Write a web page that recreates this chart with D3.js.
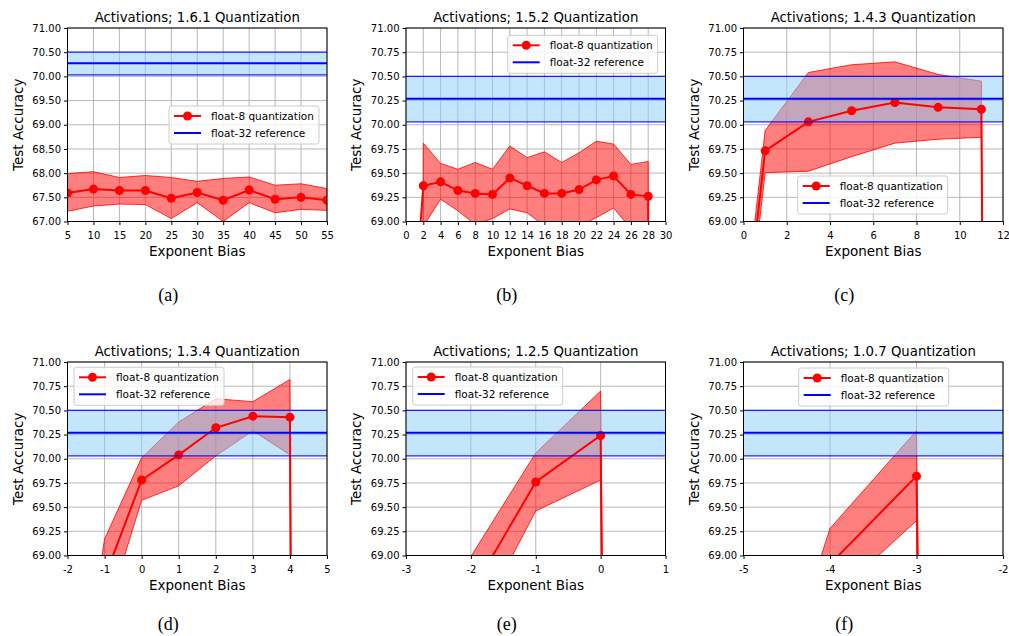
<!DOCTYPE html>
<html>
<head>
<meta charset="utf-8">
<script src="https://cdn.jsdelivr.net/npm/d3@7"></script>
<style>
    body { margin: 0; background: #fff; }
    svg text { font-family: "DejaVu Sans", sans-serif; fill: #000; }
    svg text.caption { font-family: "Liberation Serif", serif; }
</style>
</head>
<body>
<div id="chart"></div>
<script>

// float-32 reference accuracy (mean and band)
var refMean = 70.27;
var refLow = 70.03;
var refHigh = 70.50;

var formats = ["1.6.1", "1.5.2", "1.4.3", "1.3.4", "1.2.5", "1.0.7"];
var captions = ["(a)", "(b)", "(c)", "(d)", "(e)", "(f)"];

// x ranges of each panel (exponent bias)
var xDomains = [[5, 55], [0, 30], [0, 12], [-2, 5], [-3, 1], [-5, -2]];
var xSteps = [5, 2, 2, 1, 1, 1];
// y ranges (test accuracy)
var yDomains = [[67, 71], [69, 71], [69, 71], [69, 71], [69, 71], [69, 71]];
var ySteps = [0.5, 0.25, 0.25, 0.25, 0.25, 0.25];

// (a) 1.6.1
var biasA = [5, 10, 15, 20, 25, 30, 35, 40, 45, 50, 55];
var meanA = [67.59, 67.67, 67.64, 67.64, 67.48, 67.60, 67.44, 67.65, 67.46, 67.50, 67.44];
var upperA = [67.99, 68.03, 67.91, 67.95, 67.91, 67.83, 67.89, 67.92, 67.75, 67.78, 67.68];
var lowerA = [67.21, 67.32, 67.36, 67.35, 67.06, 67.39, 67.00, 67.39, 67.18, 67.25, 67.23];

// (b) 1.5.2 -- bias 0 and 30 collapse
var biasB = [0, 2, 4, 6, 8, 10, 12, 14, 16, 18, 20, 22, 24, 26, 28, 30];
var meanB = [66.9, 69.37, 69.41, 69.32, 69.29, 69.28, 69.45, 69.37, 69.29, 69.29, 69.33, 69.43, 69.47, 69.28, 69.26, 0.1];
var upperB = [37.4, 69.81, 69.60, 69.54, 69.61, 69.54, 69.78, 69.66, 69.72, 69.61, 69.71, 69.83, 69.80, 69.59, 69.62, 0.2];
var lowerB = [30.0, 68.95, 69.23, 69.11, 68.97, 69.03, 69.13, 69.09, 68.955, 68.90, 68.95, 69.04, 69.14, 68.925, 68.80, 0.0];

// (c) 1.4.3
var biasC = [-1, 1, 3, 5, 7, 9, 11, 13];
var meanC = [65.8, 69.73, 70.03, 70.145, 70.23, 70.18, 70.16, 0.1];
var upperC = [66.0, 69.94, 70.54, 70.62, 70.65, 70.52, 70.45, 0.2];
var lowerC = [65.6, 69.505, 69.52, 69.67, 69.81, 69.85, 69.87, 0.0];

// (d) 1.3.4
var biasD = [-2, -1, 0, 1, 2, 3, 4, 5];
var meanD = [66.4, 68.77, 69.78, 70.04, 70.32, 70.44, 70.43, 0.1];
var upperD = [66.74, 69.17, 70.01, 70.38, 70.62, 70.59, 70.82, 0.2];
var lowerD = [66.0, 68.33, 69.57, 69.72, 70.03, 70.29, 70.04, 0.0];

// (e) 1.2.5
var biasE = [-2, -1, 0, 1];
var meanE = [68.61, 69.76, 70.24, 0.1];
var upperE = [68.99, 70.06, 70.70, 0.2];
var lowerE = [68.18, 69.46, 69.78, 0.0];

// (f) 1.0.7
var biasF = [-5, -4, -3, -2];
var meanF = [66.0, 68.91, 69.82, 0.1];
var upperF = [66.5, 69.28, 70.29, 0.2];
var lowerF = [65.5, 68.54, 69.36, 0.0];

var seriesList = [
    [biasA, meanA, upperA, lowerA],
    [biasB, meanB, upperB, lowerB],
    [biasC, meanC, upperC, lowerC],
    [biasD, meanD, upperD, lowerD],
    [biasE, meanE, upperE, lowerE],
    [biasF, meanF, upperF, lowerF]
];

//-----layout------
var colLeft = [67.5, 406, 743.5];
var rowTop = [28, 362];
var plotW = 259.5, plotH = 193.5;
// caption baseline below plot, per row
var captionDy = [79, 74.5];
// legend box offset inside each plot
var legendPos = [[101.5, 78], [101.7, 7.3], [54.2, 148], [6.5, 5.3], [6.7, 5], [55.2, 6]];


/*
 * QuantPanel - one subplot
 */
QuantPanel = function(_svg, _index) {
    this.svg = _svg;
    this.index = _index;
    this.initVis();
};

QuantPanel.prototype.initVis = function() {
    var vis = this;
    var i = vis.index;

    vis.row = Math.floor(i / 3);
    vis.left = colLeft[i % 3];
    vis.top = rowTop[vis.row];
    vis.width = plotW;
    vis.height = plotH;

    vis.g = vis.svg.append("g")
        .attr("transform", "translate(" + vis.left + "," + vis.top + ")");

    vis.g.append("clipPath")
        .attr("id", "clip" + i)
        .append("rect")
        .attr("width", vis.width)
        .attr("height", vis.height);

    vis.x = d3.scaleLinear().domain(xDomains[i]).range([0, vis.width]);
    vis.y = d3.scaleLinear().domain(yDomains[i]).range([vis.height, 0]);

    vis.xTicks = d3.range(xDomains[i][0], xDomains[i][1] + xSteps[i] / 2, xSteps[i]);
    vis.yTicks = d3.range(yDomains[i][0], yDomains[i][1] + ySteps[i] / 2, ySteps[i]);

    var s = seriesList[i];
    vis.data = s[0].map(function(b, k) {
        return {x: b, mean: s[1][k], upper: s[2][k], lower: s[3][k]};
    });

    vis.updateVis();
};

QuantPanel.prototype.updateVis = function() {
    var vis = this;
    var i = vis.index;

    //grid
    vis.g.append("g").selectAll("line.gx")
        .data(vis.xTicks).enter().append("line")
        .attr("x1", function(d) { return vis.x(d); })
        .attr("x2", function(d) { return vis.x(d); })
        .attr("y1", 0).attr("y2", vis.height)
        .style("stroke", "#b0b0b0").style("stroke-width", 0.9);
    vis.g.append("g").selectAll("line.gy")
        .data(vis.yTicks).enter().append("line")
        .attr("y1", function(d) { return vis.y(d); })
        .attr("y2", function(d) { return vis.y(d); })
        .attr("x1", 0).attr("x2", vis.width)
        .style("stroke", "#b0b0b0").style("stroke-width", 0.9);

    var plot = vis.g.append("g").attr("clip-path", "url(#clip" + i + ")");

    //red std band
    var area = d3.area()
        .x(function(d) { return vis.x(d.x); })
        .y0(function(d) { return vis.y(d.lower); })
        .y1(function(d) { return vis.y(d.upper); });
    plot.append("path")
        .datum(vis.data)
        .attr("d", area)
        .style("fill", "#ff0000")
        .style("fill-opacity", 0.5)
        .style("stroke", "#ff0000")
        .style("stroke-width", 0.8);

    //blue reference band (drawn over the red fill)
    plot.append("rect")
        .attr("x", 0)
        .attr("width", vis.width)
        .attr("y", vis.y(refHigh))
        .attr("height", vis.y(refLow) - vis.y(refHigh))
        .style("fill", "#87cefa")
        .style("fill-opacity", 0.5);

    //mean line + markers
    var line = d3.line()
        .x(function(d) { return vis.x(d.x); })
        .y(function(d) { return vis.y(d.mean); });
    plot.append("path")
        .datum(vis.data)
        .attr("d", line)
        .style("fill", "none")
        .style("stroke", "#ff0000")
        .style("stroke-width", 2);
    plot.selectAll("circle")
        .data(vis.data).enter().append("circle")
        .attr("cx", function(d) { return vis.x(d.x); })
        .attr("cy", function(d) { return vis.y(d.mean); })
        .attr("r", 4.5)
        .style("fill", "#ff0000");

    //blue reference lines
    [refLow, refHigh].forEach(function(v) {
        plot.append("line")
            .attr("x1", 0).attr("x2", vis.width)
            .attr("y1", vis.y(v)).attr("y2", vis.y(v))
            .style("stroke", "#0000ff").style("stroke-width", 1.2).style("opacity", 0.85);
    });
    plot.append("line")
        .attr("x1", 0).attr("x2", vis.width)
        .attr("y1", vis.y(refMean)).attr("y2", vis.y(refMean))
        .style("stroke", "#0000ff").style("stroke-width", 2);

    //axes
    var xAxis = d3.axisBottom(vis.x).tickValues(vis.xTicks).tickSize(3.5).tickPadding(6.5)
        .tickFormat(function(d) { return String(d); });
    var yAxis = d3.axisLeft(vis.y).tickValues(vis.yTicks).tickSize(3.5).tickPadding(3)
        .tickFormat(d3.format(".2f"));

    var gx = vis.g.append("g")
        .attr("transform", "translate(0," + vis.height + ")")
        .call(xAxis);
    var gy = vis.g.append("g").call(yAxis);
    [gx, gy].forEach(function(a) {
        a.select(".domain").remove();
        a.selectAll("text").style("font-size", "10px").style("font-family", "DejaVu Sans");
        a.selectAll("line").style("stroke", "#000");
    });

    //frame
    vis.g.append("rect")
        .attr("width", vis.width).attr("height", vis.height)
        .style("fill", "none").style("stroke", "#000").style("stroke-width", 1);

    //title + labels
    vis.g.append("text")
        .attr("x", vis.width / 2).attr("y", -6)
        .attr("text-anchor", "middle")
        .style("font-size", "13.3px")
        .text("Activations; " + formats[i] + " Quantization");

    vis.g.append("text")
        .attr("x", vis.width / 2).attr("y", vis.height + 34)
        .attr("text-anchor", "middle")
        .style("font-size", "13.5px")
        .text("Exponent Bias");

    vis.g.append("text")
        .attr("transform", "translate(-45," + vis.height / 2 + ") rotate(-90)")
        .attr("text-anchor", "middle")
        .style("font-size", "13.5px")
        .text("Test Accuracy");

    vis.g.append("text")
        .attr("class", "caption")
        .attr("x", vis.width / 2 - 29).attr("y", vis.height + captionDy[vis.row])
        .attr("text-anchor", "middle")
        .style("font-size", "18px")
        .text(captions[i]);

    vis.drawLegend();
};

QuantPanel.prototype.drawLegend = function() {
    var vis = this;
    var p = legendPos[vis.index];

    var lg = vis.g.append("g")
        .attr("transform", "translate(" + p[0] + "," + p[1] + ")");

    lg.append("rect")
        .attr("width", 150).attr("height", 38)
        .attr("rx", 2.5)
        .style("fill", "#fff").style("fill-opacity", 0.8)
        .style("stroke", "#cccccc").style("stroke-width", 1);

    lg.append("line")
        .attr("x1", 5).attr("x2", 32).attr("y1", 10).attr("y2", 10)
        .style("stroke", "#ff0000").style("stroke-width", 2);
    lg.append("circle")
        .attr("cx", 18.5).attr("cy", 10).attr("r", 4.5)
        .style("fill", "#ff0000");
    lg.append("line")
        .attr("x1", 5).attr("x2", 32).attr("y1", 27).attr("y2", 27)
        .style("stroke", "#0000ff").style("stroke-width", 2);

    lg.append("text").attr("x", 42).attr("y", 14)
        .style("font-size", "10.5px").text("float-8 quantization");
    lg.append("text").attr("x", 42).attr("y", 31)
        .style("font-size", "10.5px").text("float-32 reference");
};


var svg = d3.select("#chart").append("svg")
    .attr("width", 1009)
    .attr("height", 636);

svg.append("rect").attr("width", 1009).attr("height", 636).style("fill", "#fff");

var panels = [];
for (var k = 0; k < 6; k++) {
    panels.push(new QuantPanel(svg, k));
}

</script>
</body>
</html>
